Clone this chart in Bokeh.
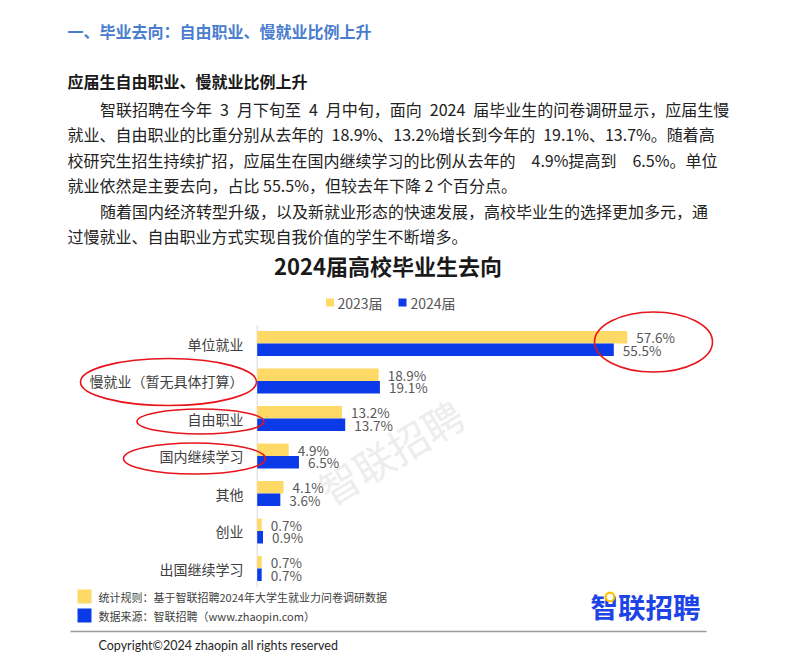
from bokeh.plotting import figure
from bokeh.models import Range1d, ColumnDataSource
from bokeh.transform import dodge
from bokeh.core.properties import value
from bokeh.embed import file_html
from bokeh.resources import INLINE

# ---------------- data ----------------
categories = ["单位就业", "慢就业（暂无具体打算）", "自由职业", "国内继续学习", "其他", "创业", "出国继续学习"]
share_2023 = [57.6, 18.9, 13.2, 4.9, 4.1, 0.7, 0.7]
share_2024 = [55.5, 19.1, 13.7, 6.5, 3.6, 0.9, 0.7]
series_names = ["2023届", "2024届"]

chart_title = "2024届高校毕业生去向"
section_title = "一、毕业去向：自由职业、慢就业比例上升"
sub_title = "应届生自由职业、慢就业比例上升"
# justified lines of the source use widened spaces (en spaces) so the right edge lines up
body_lines = [
    "智联招聘在今年\u20023\u2002月下旬至\u20024\u2002月中旬，面向\u20022024\u2002届毕业生的问卷调研显示，应届生慢",
    "就业、自由职业的比重分别从去年的\u200218.9%、13.2%增长到今年的\u200219.1%、13.7%。随着高",
    "校研究生招生持续扩招，应届生在国内继续学习的比例从去年的\u2002\u20024.9%提高到\u2002\u20026.5%。单位",
    "就业依然是主要去向，占比 55.5%，但较去年下降 2 个百分点。",
    "随着国内经济转型升级，以及新就业形态的快速发展，高校毕业生的选择更加多元，通",
    "过慢就业、自由职业方式实现自我价值的学生不断增多。",
]
body_indent = [True, False, False, False, True, False]
notes = ["统计规则：基于智联招聘2024年大学生就业力问卷调研数据", "数据来源：智联招聘（www.zhaopin.com）"]
copyright_text = "Copyright©2024 zhaopin all rights reserved"
brand = "智联招聘"

# ---------------- styles / layout ----------------
YELLOW = "#FFD966"
BLUE = "#0B3BE8"
CJK = "Noto Sans CJK SC"
W, H = 797, 658
X0, PX_PER_PCT = 256.7, 6.425      # where 0% sits, pixels per percent
Y0, ROW = 343.0, 37.5               # centre of first category, pixels per category

p = figure(width=W, height=H, x_range=Range1d(0, W), y_range=Range1d(H, 0),
           output_backend="svg", toolbar_location=None, min_border=0,
           x_axis_type=None, y_axis_type=None)
p.grid.visible = False
p.outline_line_color = None
p.background_fill_color = "white"
p.border_fill_color = "white"

p.extra_x_ranges = {"pct": Range1d((0 - X0) / PX_PER_PCT, (W - X0) / PX_PER_PCT)}
p.extra_y_ranges = {"cat": Range1d((H - Y0) / ROW, (0 - Y0) / ROW)}

# ---------------- header text ----------------
p.text(x=[67], y=[30.5], text=[section_title], text_font=value(CJK), text_font_style="bold",
       text_font_size="16px", text_color="#4A7DCE", text_baseline="middle")
p.text(x=[67], y=[80], text=[sub_title], text_font=value(CJK), text_font_style="bold",
       text_font_size="16px", text_color="#1A1A1A", text_baseline="middle")
body_y = [108 + 25.5 * i for i in range(len(body_lines))]
body_x = [99.5 if ind else 67 for ind in body_indent]
p.text(x=body_x, y=body_y, text=body_lines, text_font=value(CJK), text_font_size="16px",
       text_color="#222222", text_baseline="middle")

# ---------------- watermark ----------------
p.text(x=[390], y=[451], text=[brand], angle=31, angle_units="deg", text_align="center",
       text_baseline="middle", text_font=value(CJK), text_font_size="40px", text_color="#EDEDED")

# ---------------- chart ----------------
p.text(x=[387.5], y=[264], text=[chart_title], text_align="center", text_baseline="middle",
       text_font=value(CJK), text_font_style="bold", text_font_size="22px", text_color="#1A1A1A")

# legend
p.scatter(x=[329.5, 402], y=[302, 302], marker="square", size=8, color=[YELLOW, BLUE], line_color=None)
p.text(x=[337, 410], y=[302, 302], text=series_names, text_baseline="middle",
       text_font=value(CJK), text_font_size="14px", text_color="#595959")

src = ColumnDataSource(dict(
    idx=list(range(len(categories))),
    cat=categories,
    v23=share_2023,
    v24=share_2024,
    l23=[f"{v:.1f}%" for v in share_2023],
    l24=[f"{v:.1f}%" for v in share_2024],
))

# axis line
p.segment(x0=[0], x1=[0], y0=[-0.49], y1=[len(categories) - 0.5], line_color="#D9D9D9",
          line_width=1, x_range_name="pct", y_range_name="cat")

p.hbar(y=dodge("idx", -1 / 6), left=0, right="v23", height=1 / 3, fill_color=YELLOW,
       line_color=None, source=src, x_range_name="pct", y_range_name="cat")
p.hbar(y=dodge("idx", 1 / 6), left=0, right="v24", height=1 / 3, fill_color=BLUE,
       line_color=None, source=src, x_range_name="pct", y_range_name="cat")

p.text(x="v23", y=dodge("idx", -1 / 6), text="l23", x_offset=9, text_baseline="middle",
       text_font=value(CJK), text_font_size="13.5px", text_color="#595959", source=src,
       x_range_name="pct", y_range_name="cat")
p.text(x="v24", y=dodge("idx", 1 / 6), text="l24", x_offset=9, text_baseline="middle",
       text_font=value(CJK), text_font_size="13.5px", text_color="#595959", source=src,
       x_range_name="pct", y_range_name="cat")

# category labels (right aligned against axis)
p.text(x=243, y="idx", text="cat", text_align="right", text_baseline="middle",
       text_font=value(CJK), text_font_size="14px", text_color="#404040", source=src,
       y_range_name="cat")

# red hand-drawn highlight ellipses
ell_x = [653, 168, 200, 194]
ell_y = [341.5, 381.5, 421, 458]
ell_w = [118, 176, 127, 142]
ell_h = [60, 47, 25, 31]
p.ellipse(x=ell_x, y=ell_y, width=ell_w, height=ell_h, fill_color=None,
          line_color="#E8141B", line_width=1.6)

# ---------------- notes ----------------
p.rect(x=[84, 84], y=[596, 615], width=14, height=14, fill_color=[YELLOW, BLUE], line_color=None)
p.text(x=[98, 98], y=[596, 615.5], text=notes, text_baseline="middle",
       text_font=value(CJK), text_font_size="11px", text_color="#404040")

# logo
p.text(x=[590], y=[605], text=[brand], text_baseline="middle", text_font=value(CJK),
       text_font_style="bold", text_font_size="27.5px", text_color="#1E44E6")
p.circle(x=[609.5], y=[596.5], radius=4.3, fill_color="white", line_color="#FFC000", line_width=2.3)

# footer
p.line(x=[70, 706], y=[631, 631], line_color="#9A9A9A", line_width=1.3)
p.text(x=[98], y=[645], text=[copyright_text], text_baseline="middle", text_font=value("Lato"),
       text_font_size="12.5px", text_color="#262626")

open("out.html", "w").write(file_html(p, INLINE))
